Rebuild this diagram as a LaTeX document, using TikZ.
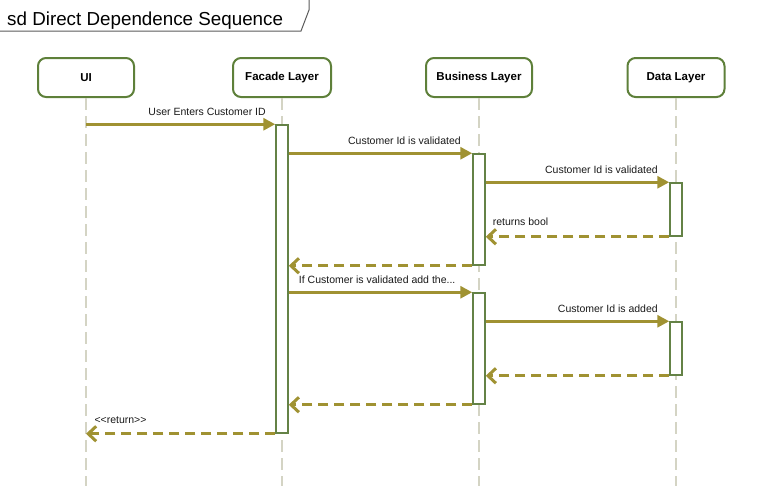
\documentclass[tikz,border=0pt]{standalone}
\usepackage{fontspec}
\setmainfont{Liberation Sans}
\usetikzlibrary{arrows.meta}
\definecolor{headgreen}{RGB}{94,128,58}
\definecolor{actgreen}{RGB}{100,130,70}
\definecolor{msgolive}{RGB}{160,146,50}
\definecolor{lifegray}{RGB}{212,212,196}
\definecolor{framegray}{RGB}{90,90,90}
\tikzset{
  headbox/.style={draw=headgreen, line width=2pt, rounded corners=8pt, fill=white,
    minimum height=39pt, inner sep=0pt, font=\bfseries\fontsize{11.5}{13}\selectfont},
  actbox/.style={draw=actgreen, line width=1.5pt, fill=white, minimum width=12pt, inner sep=0pt},
  lifeline/.style={draw=lifegray, line width=1.8pt, dash pattern=on 12pt off 6pt},
  syncmsg/.style={draw=msgolive, line width=3pt, -{Triangle[length=12pt,width=12pt]}},
  retmsg/.style={draw=msgolive, line width=3pt, dash pattern=on 10pt off 6pt,
    -{Straight Barb[length=8pt,width=15pt]}},
  msglabel/.style={font=\fontsize{10.5}{12}\selectfont, inner sep=0pt, text=black!90},
}
\begin{document}
\begin{tikzpicture}[x=1pt,y=-1pt]
\useasboundingbox (0,0) rectangle (768,485);
% frame tab
\draw[framegray, line width=1pt] (0,31) -- (301,31) -- (309,10) -- (309,-1);
\node[anchor=base west, inner sep=0pt, font=\fontsize{18.8}{22}\selectfont] (title) at (7,25) {sd Direct Dependence Sequence};
% heads
\node[headbox, minimum width=96pt] (ui) at (86,77.5) {UI};
\node[headbox, minimum width=98pt] (fc) at (282,77.5) {Facade Layer};
\node[headbox, minimum width=106pt] (bl) at (479,77.5) {Business Layer};
\node[headbox, minimum width=97pt] (dl) at (676,77.5) {Data Layer};
% lifelines
\coordinate (uiend) at (86,487);
\coordinate (fcend) at (282,487);
\coordinate (blend) at (479,487);
\coordinate (dlend) at (676,487);
\draw[lifeline] (ui.south) -- (uiend);
\draw[lifeline] (fc.south) -- (fcend);
\draw[lifeline] (bl.south) -- (blend);
\draw[lifeline] (dl.south) -- (dlend);
% activations
\node[actbox, minimum height=308pt] (fa) at (282,279) {};
\node[actbox, minimum height=111pt] (b1) at (479,209.5) {};
\node[actbox, minimum height=111pt] (b2) at (479,348.5) {};
\node[actbox, minimum height=53pt] (d1) at (676,209.5) {};
\node[actbox, minimum height=53pt] (d2) at (676,348.5) {};
% messages
\draw[syncmsg] (ui.south |- fa.north) -- (fa.north west)
  node[msglabel, anchor=base east, xshift=-8pt, yshift=8.5pt] {User Enters Customer ID};
\draw[syncmsg] (fa.east |- b1.north) -- (b1.north west)
  node[msglabel, anchor=base east, xshift=-10pt, yshift=9pt] {Customer Id is validated};
\draw[syncmsg] (b1.east |- d1.north) -- (d1.north west)
  node[msglabel, anchor=base east, xshift=-10pt, yshift=9pt] {Customer Id is validated};
\draw[retmsg] (d1.south west) -- (b1.east |- d1.south)
  node[msglabel, anchor=base west, xshift=5.5pt, yshift=11pt] {returns bool};
\draw[retmsg] (b1.south west) -- (fa.east |- b1.south);
\draw[syncmsg] (fa.east |- b2.north) -- (b2.north west);
\node[msglabel, anchor=base west] (m6) at ([xshift=10pt, yshift=9pt]fa.east |- b2.north) {If Customer is validated add the...};
\draw[syncmsg] (b2.east |- d2.north) -- (d2.north west)
  node[msglabel, anchor=base east, xshift=-10pt, yshift=9pt] {Customer Id is added};
\draw[retmsg] (d2.south west) -- (b2.east |- d2.south);
\draw[retmsg] (b2.south west) -- (fa.east |- b2.south);
\draw[retmsg] (fa.south west) -- (ui.south |- fa.south)
  node[msglabel, anchor=base west, xshift=7pt, yshift=10pt] {<{}<return>{}>};
\end{tikzpicture}
\end{document}
